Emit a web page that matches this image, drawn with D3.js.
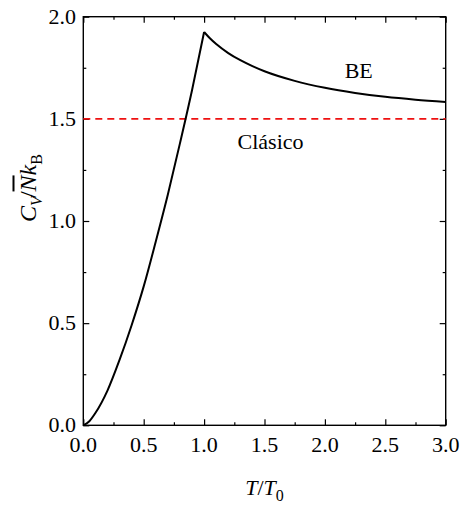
<!DOCTYPE html>
<html>
<head>
<meta charset="utf-8">
<script src="https://cdn.jsdelivr.net/npm/d3@7"></script>
<style>
  body { margin: 0; background: #fff; }
  #chart { position: relative; width: 460px; height: 506px; }
  #chart svg { position: absolute; left: 0; top: 0; }
  .lbl {
    position: absolute;
    font-family: "Liberation Serif", "Times New Roman", serif;
    font-size: 22px;
    line-height: 22px;
    white-space: nowrap;
    color: #000;
  }
  .it { font-style: italic; }
  .sub { font-size: 16px; position: relative; top: 6px; }
</style>
</head>
<body>
<div id="chart"></div>
<script>
// values
const tBelow = [0, 0.05, 0.1, 0.2, 0.3, 0.4, 0.5, 0.6, 0.7, 0.8, 0.9, 1.0];
const cvBelow = [0, 0.02, 0.06, 0.17, 0.32, 0.49, 0.68, 0.90, 1.13, 1.38, 1.64, 1.925];
const tAbove = [1.0, 1.05, 1.1, 1.2, 1.3, 1.4, 1.5, 1.75, 2.0, 2.25, 2.5, 2.75, 3.0];
const cvAbove = [1.925, 1.893, 1.866, 1.822, 1.787, 1.758, 1.733, 1.686, 1.652, 1.627, 1.608, 1.594, 1.583];
const classicalValue = 1.5;
const xTicks = [0, 0.5, 1.0, 1.5, 2.0, 2.5, 3.0];
const yTicks = [0, 0.5, 1.0, 1.5, 2.0];
const xMinor = [0.25, 0.75, 1.25, 1.75, 2.25, 2.75];
const yMinor = [0.25, 0.75, 1.25, 1.75];

const width = 460, height = 506;
const margin = { left: 83.3, right: 14.3, top: 16.7, bottom: 80.7 };
const w = width - margin.left - margin.right;
const h = height - margin.top - margin.bottom;

const chart = d3.select("#chart");

const svg = chart.append("svg")
  .attr("width", width)
  .attr("height", height);

const g = svg.append("g")
  .attr("transform", `translate(${margin.left},${margin.top})`);

const x = d3.scaleLinear().domain([0, 3]).range([0, w]);
const y = d3.scaleLinear().domain([0, 2]).range([h, 0]);

// frame
g.append("rect")
  .attr("width", w).attr("height", h)
  .attr("fill", "none").attr("stroke", "#000").attr("stroke-width", 1.4);

const fmt = d3.format(".1f");

// tick marks only; the labels are html text (svg text falls back to sans here)
function styleAxis(sel) {
  sel.select(".domain").remove();
  sel.selectAll(".tick text").remove();
  sel.selectAll(".tick line").attr("stroke", "#000").attr("stroke-width", 1.2);
}

const axes = [
  [d3.axisBottom(x).tickValues(xTicks).tickSizeInner(-6), `translate(0,${h})`],
  [d3.axisBottom(x).tickValues(xMinor).tickSizeInner(-3), `translate(0,${h})`],
  [d3.axisTop(x).tickValues(xTicks).tickSizeInner(-6), null],
  [d3.axisTop(x).tickValues(xMinor).tickSizeInner(-3), null],
  [d3.axisLeft(y).tickValues(yTicks).tickSizeInner(-6), null],
  [d3.axisLeft(y).tickValues(yMinor).tickSizeInner(-3), null],
  [d3.axisRight(y).tickValues(yTicks).tickSizeInner(-6), `translate(${w},0)`],
  [d3.axisRight(y).tickValues(yMinor).tickSizeInner(-3), `translate(${w},0)`]
];
axes.forEach(([axis, tr]) => {
  g.append("g").attr("transform", tr)
    .call(axis.tickSizeOuter(0))
    .call(styleAxis);
});

// classical limit
g.append("line")
  .attr("x1", x(0)).attr("x2", x(3))
  .attr("y1", y(classicalValue)).attr("y2", y(classicalValue))
  .attr("stroke", "#ee1111").attr("stroke-width", 1.6)
  .attr("stroke-dasharray", "7,5");

// BE curve, two branches joined at T = T0
const line = d3.line()
  .x(d => x(d[0]))
  .y(d => y(d[1]))
  .curve(d3.curveMonotoneX);

[[tBelow, cvBelow], [tAbove, cvAbove]].forEach(([ts, cs]) => {
  g.append("path")
    .datum(ts.map((t, i) => [t, cs[i]]))
    .attr("d", line)
    .attr("fill", "none")
    .attr("stroke", "#000")
    .attr("stroke-width", 2)
    .attr("stroke-linejoin", "miter");
});

// html labels; baseline sits ~18px below the top of a 22px line box
const BASE = 18.4;

chart.selectAll("div.xtick")
  .data(xTicks)
  .enter().append("div")
  .attr("class", "lbl xtick")
  .style("left", d => (margin.left + x(d)) + "px")
  .style("top", (452 - BASE) + "px")
  .style("transform", "translateX(-50%)")
  .text(fmt);

chart.selectAll("div.ytick")
  .data(yTicks)
  .enter().append("div")
  .attr("class", "lbl ytick")
  .style("left", "76px")
  .style("top", d => (margin.top + y(d) + 7.3 - BASE) + "px")
  .style("transform", "translateX(-100%)")
  .text(fmt);

chart.append("div")
  .attr("class", "lbl")
  .style("left", (margin.left + x(2.28)) + "px")
  .style("top", (margin.top + y(1.70) - BASE) + "px")
  .style("transform", "translateX(-50%)")
  .text("BE");

chart.append("div")
  .attr("class", "lbl")
  .style("left", (margin.left + x(1.55)) + "px")
  .style("top", (margin.top + y(1.349) - BASE) + "px")
  .style("transform", "translateX(-50%)")
  .text("Clásico");

// x title
chart.append("div")
  .attr("class", "lbl")
  .style("left", (margin.left + w / 2) + "px")
  .style("top", (495 - BASE) + "px")
  .style("transform", "translateX(-50%)")
  .html('<span class="it">T</span>/<span class="it">T</span><span class="sub">0</span>');

// y title
chart.append("div")
  .attr("class", "lbl")
  .style("font-size", "24px")
  .style("line-height", "24px")
  .style("left", "29px")
  .style("top", "188px")
  .style("transform", "translate(-50%,-50%) rotate(-90deg)")
  .html('<span class="it">C</span><span class="sub it">V</span><span style="margin-left:-2px">/</span>' +
        '<span class="it" style="text-decoration:overline">N</span><span class="it">k</span><span class="sub">B</span>');
</script>
</body>
</html>
